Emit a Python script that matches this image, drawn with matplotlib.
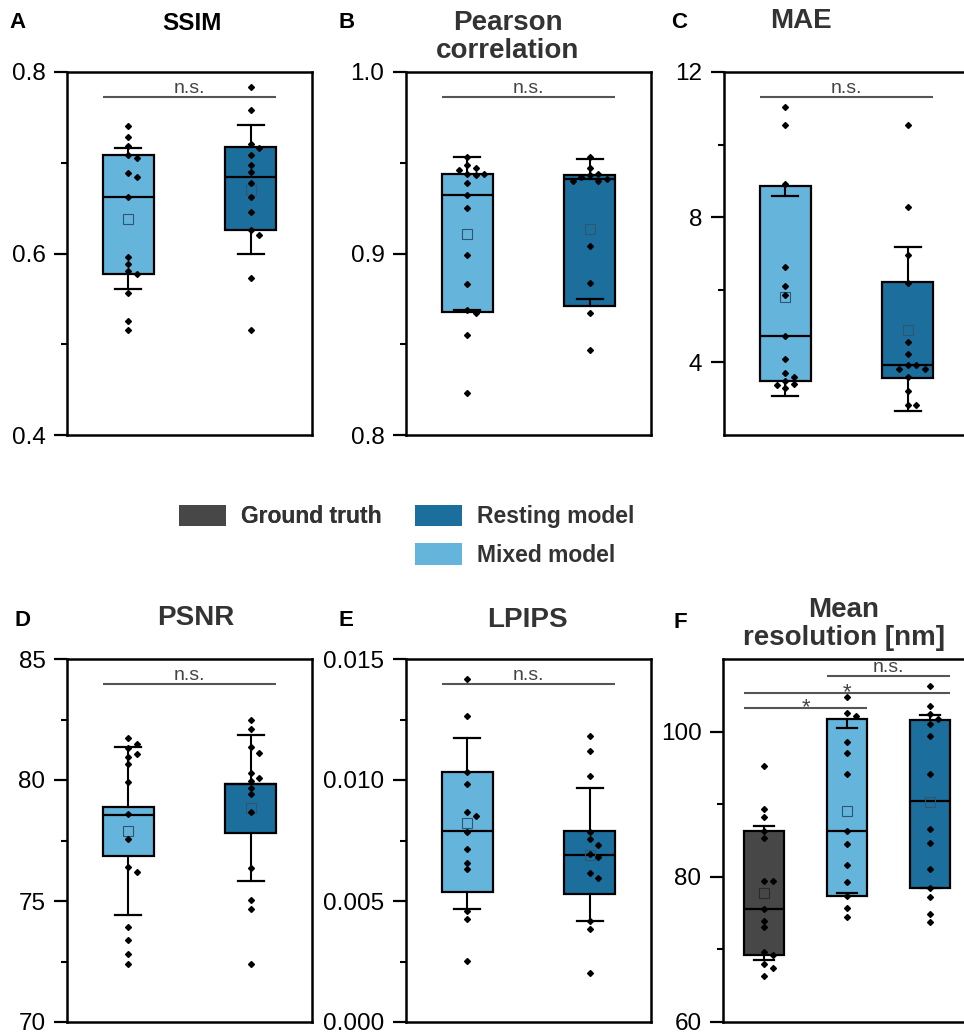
import numpy as np
import matplotlib.pyplot as plt
from matplotlib.patches import Patch

plt.rcParams['font.family'] = ['Liberation Sans', 'DejaVu Sans']

c_gt = '#474747'
c_rest = '#1c6e9c'
c_mix = '#64b4dc'

# ---- raw points ----
ssim_mix = [0.740, 0.728, 0.718, 0.709, 0.705, 0.689, 0.684, 0.662, 0.596, 0.588, 0.581, 0.577, 0.556, 0.526, 0.516]
ssim_rest = [0.783, 0.758, 0.721, 0.716, 0.708, 0.698, 0.690, 0.678, 0.662, 0.646, 0.626, 0.620, 0.573, 0.516]
pear_mix = [0.953, 0.949, 0.947, 0.946, 0.944, 0.944, 0.943, 0.939, 0.932, 0.925, 0.899, 0.883, 0.869, 0.867, 0.855, 0.823]
pear_rest = [0.953, 0.947, 0.944, 0.943, 0.942, 0.941, 0.940, 0.940, 0.904, 0.884, 0.867, 0.847]
mae_mix = [11.03, 10.55, 8.91, 6.63, 6.11, 5.87, 4.73, 4.08, 3.70, 3.59, 3.48, 3.41, 3.38, 3.29]
mae_rest = [10.55, 8.29, 6.95, 6.20, 4.57, 4.23, 3.93, 3.93, 3.82, 3.82, 3.59, 3.20, 2.84, 2.84]
psnr_mix = [81.72, 81.49, 81.32, 81.08, 80.93, 80.67, 79.91, 78.58, 77.55, 76.40, 76.21, 73.93, 73.38, 72.83, 72.41]
psnr_rest = [82.47, 82.12, 81.36, 81.12, 80.28, 80.07, 79.96, 79.67, 79.42, 78.67, 76.35, 75.04, 74.66, 72.41]
lpips_mix = [0.01419, 0.01263, 0.01032, 0.00982, 0.00867, 0.00853, 0.00785, 0.00713, 0.00658, 0.00632, 0.00460, 0.00425, 0.00252]
lpips_rest = [0.01180, 0.01118, 0.01018, 0.00787, 0.00756, 0.00733, 0.00694, 0.00683, 0.00617, 0.00597, 0.00419, 0.00386, 0.00204]
res_gt = [95.31, 89.34, 88.19, 86.31, 85.39, 79.47, 79.47, 75.61, 73.91, 73.08, 69.59, 69.27, 68.03, 67.39, 66.33]
res_mix = [104.73, 102.57, 102.20, 98.53, 97.11, 94.12, 86.31, 84.52, 81.58, 79.24, 77.40, 75.75, 74.51]
res_rest = [106.29, 103.54, 102.48, 101.75, 101.10, 99.36, 94.17, 86.59, 84.61, 81.07, 78.46, 77.22, 74.92, 73.82]

# ---- box stats: q1, median, q3, whisker low, whisker high, mean ----
ssim_mix_box = [0.577, 0.662, 0.709, 0.561, 0.716, 0.638]
ssim_rest_box = [0.626, 0.684, 0.717, 0.600, 0.742, 0.670]
pear_mix_box = [0.868, 0.932, 0.944, 0.869, 0.953, 0.9105]
pear_rest_box = [0.871, 0.941, 0.943, 0.875, 0.952, 0.9136]
mae_mix_box = [3.48, 4.73, 8.86, 3.08, 8.58, 5.81]
mae_rest_box = [3.57, 3.92, 6.21, 2.67, 7.19, 4.90]
psnr_mix_box = [76.87, 78.57, 78.90, 74.44, 81.37, 77.89]
psnr_rest_box = [77.80, 79.85, 79.85, 75.82, 81.88, 78.83]
lpips_mix_box = [0.00537, 0.00789, 0.01035, 0.00466, 0.01173, 0.00821]
lpips_rest_box = [0.00528, 0.00690, 0.00788, 0.00419, 0.00969, 0.00690]
res_gt_box = [69.18, 75.61, 86.36, 68.49, 87.05, 77.77]
res_mix_box = [77.40, 86.31, 101.79, 77.81, 100.51, 89.07]
res_rest_box = [78.46, 90.45, 101.61, 78.46, 102.34, 90.26]

legend_labels = ['Ground truth', 'Resting model', 'Mixed model']

FW, FH = 964, 1035


def swarm(vals, lo, hi, hpx, upx, d=6.0, step=8.5):
    # simple beeswarm: offsets in data-x units
    ypx = (np.asarray(vals) - lo) / (hi - lo) * hpx
    placed = []
    offs = np.zeros(len(vals))
    for i in np.argsort(-ypx):
        for k in [0, 1, -1, 2, -2, 3, -3]:
            x = k * step
            if all((x - px) ** 2 + (ypx[i] - py) ** 2 >= d * d for px, py in placed):
                break
        placed.append((x, ypx[i]))
        offs[i] = x / upx
    return offs


def panel(rect_px, letter, letter_xy, title, title_xy, groups, boxes, colors, ylim, major, minor,
          sigs, width=0.42, title_fs=20, title_c='#333333', ticklabels=None):
    x0, y0, w, h = rect_px
    ax = fig.add_axes([x0 / FW, 1 - (y0 + h) / FH, w / FW, h / FH])
    n = len(groups)
    pos = np.arange(1, n + 1)
    ax.set_xlim(0.5, n + 0.5)
    ax.set_ylim(*ylim)
    stats = [dict(q1=b[0], med=b[1], q3=b[2], whislo=b[3], whishi=b[4], mean=b[5], fliers=[])
             for b in boxes]
    bp = ax.bxp(stats, positions=pos, widths=width, patch_artist=True, showmeans=True,
                capwidths=width * 0.5,
                boxprops=dict(linewidth=1.6, edgecolor='black'),
                medianprops=dict(color='black', linewidth=1.6),
                whiskerprops=dict(color='black', linewidth=1.5),
                capprops=dict(color='black', linewidth=1.6),
                meanprops=dict(marker='s', markerfacecolor='none', markeredgewidth=0.8,
                               markersize=7))
    for patch, c, m in zip(bp['boxes'], colors, bp['means']):
        patch.set_facecolor(c)
        m.set_markeredgecolor('#2f5670' if c != c_gt else '#2a2a2a')
    for p, g in zip(pos, groups):
        off = swarm(g, ylim[0], ylim[1], h, w / n)
        ax.plot(p + off, g, 'D', color='black', markersize=3.0, zorder=5, clip_on=False)
    for (i, j, y, txt) in sigs:
        a = pos[i] - width / 2
        b = pos[j] + width / 2
        ax.plot([a, b], [y, y], color='#555555', lw=1.5, solid_capstyle='butt')
        if txt == '*':
            ax.annotate(txt, ((a + b) / 2, y), xytext=(0, -4), textcoords='offset points',
                        ha='center', va='baseline', fontsize=16, color='#444444')
        else:
            ax.text((a + b) / 2, y, txt, ha='center', va='bottom', fontsize=14, color='#444444')
    ax.set_yticks(major)
    ax.set_yticks(minor, minor=True)
    if ticklabels is not None:
        ax.set_yticklabels(ticklabels)
    ax.set_xticks([])
    ax.tick_params(axis='y', which='major', length=9.5, width=1.6, labelsize=17.5, pad=6)
    ax.tick_params(axis='y', which='minor', length=4.5, width=1.5)
    for s in ax.spines.values():
        s.set_linewidth(1.8)
    fig.text(title_xy[0] / FW, 1 - title_xy[1] / FH, title, fontsize=title_fs, fontweight='bold',
             color=title_c, ha='center', va='center', linespacing=1.12)
    fig.text(letter_xy[0] / FW, 1 - letter_xy[1] / FH, letter, fontsize=16, fontweight='bold',
             ha='center', va='center')
    return ax


fig = plt.figure(figsize=(FW / 100, FH / 100), dpi=100)

panel([67, 72, 245, 363], 'A', (18, 22), 'SSIM', (192, 23), [ssim_mix, ssim_rest],
      [ssim_mix_box, ssim_rest_box], [c_mix, c_rest], (0.4, 0.8), [0.4, 0.6, 0.8], [0.5, 0.7],
      [(0, 1, 0.773, 'n.s.')], title_fs=17.5, title_c='black')
panel([406, 72, 245, 363], 'B', (347, 22), 'Pearson\ncorrelation', (508, 37), [pear_mix, pear_rest],
      [pear_mix_box, pear_rest_box], [c_mix, c_rest], (0.8, 1.0), [0.8, 0.9, 1.0], [0.85, 0.95],
      [(0, 1, 0.986, 'n.s.')], ticklabels=['0.8', '0.9', '1.0'])
panel([724, 72, 245, 363], 'C', (679, 22), 'MAE', (801, 21), [mae_mix, mae_rest],
      [mae_mix_box, mae_rest_box], [c_mix, c_rest], (2, 12), [4, 8, 12], [6, 10],
      [(0, 1, 11.31, 'n.s.')])
panel([67, 659, 245, 363], 'D', (23, 620), 'PSNR', (196, 618), [psnr_mix, psnr_rest],
      [psnr_mix_box, psnr_rest_box], [c_mix, c_rest], (70, 85), [70, 75, 80, 85], [72.5, 77.5, 82.5],
      [(0, 1, 83.96, 'n.s.')])
panel([406, 659, 245, 363], 'E', (346, 620), 'LPIPS', (527, 620), [lpips_mix, lpips_rest],
      [lpips_mix_box, lpips_rest_box], [c_mix, c_rest], (0, 0.015), [0, 0.005, 0.010, 0.015],
      [0.0025, 0.0075, 0.0125], [(0, 1, 0.01397, 'n.s.')],
      ticklabels=['0.000', '0.005', '0.010', '0.015'])
panel([723, 659, 248, 363], 'F', (680, 622), 'Mean\nresolution [nm]', (844, 624),
      [res_gt, res_mix, res_rest], [res_gt_box, res_mix_box, res_rest_box], [c_gt, c_mix, c_rest],
      (60, 110), [60, 80, 100], [70, 90],
      [(1, 2, 107.62, 'n.s.'), (0, 2, 105.33, '*'), (0, 1, 103.31, '*')], width=0.48)

lprop = dict(weight='bold', size=16.5)
colors_leg = [c_gt, c_rest, c_mix]
h = [Patch(facecolor=c, edgecolor='none') for c in colors_leg]
kw = dict(loc='upper left', frameon=False, prop=lprop, handlelength=2.05, handleheight=1.05,
          handletextpad=0.65, labelspacing=0.65, borderpad=0.0, borderaxespad=0.0)
leg1 = fig.legend(h[:1], legend_labels[:1], bbox_to_anchor=(179 / FW, 1 - 505 / FH), **kw)
leg2 = fig.legend(h[1:], legend_labels[1:], bbox_to_anchor=(415 / FW, 1 - 505 / FH), **kw)
for lg in (leg1, leg2):
    for t in lg.get_texts():
        t.set_color('#333333')
fig.add_artist(leg1)

fig.savefig('out.png', dpi=100)
